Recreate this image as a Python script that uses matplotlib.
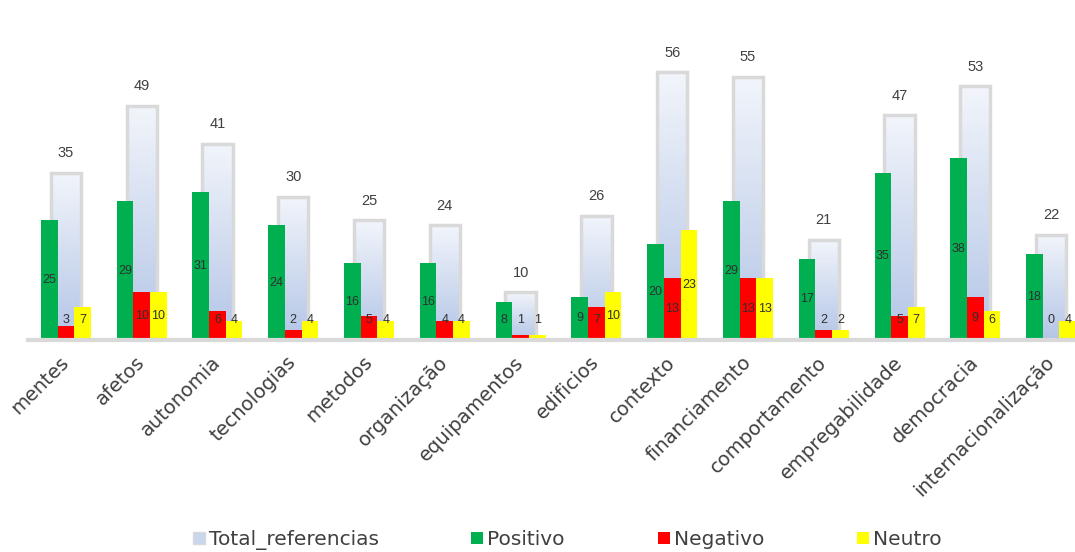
import numpy as np
import matplotlib
matplotlib.use("Agg")
import matplotlib.pyplot as plt
from matplotlib.patches import Patch
from matplotlib.colors import LinearSegmentedColormap

categories = ["mentes", "afetos", "autonomia", "tecnologias", "metodos", "organização",
              "equipamentos", "edificios", "contexto", "financiamento", "comportamento",
              "empregabilidade", "democracia", "internacionalização"]
total = [35, 49, 41, 30, 25, 24, 10, 26, 56, 55, 21, 47, 53, 22]
positivo = [25, 29, 31, 24, 16, 16, 8, 9, 20, 29, 17, 35, 38, 18]
negativo = [3, 10, 6, 2, 5, 4, 1, 7, 13, 13, 2, 5, 9, 0]
neutro = [7, 10, 4, 4, 4, 4, 1, 10, 23, 13, 2, 7, 6, 4]

W, H = 1075, 552
fig = plt.figure(figsize=(W / 100, H / 100), dpi=100)
ax = fig.add_axes([28 / W, 212 / H, 1061 / W, 287 / H])
x = np.arange(len(categories))

grad = LinearSegmentedColormap.from_list("g", ["#B3C5E6", "#F2F5FB"])
tb = ax.bar(x, total, width=0.4, color="none", edgecolor="#D9D9D9", linewidth=2.5, zorder=1)
gimg = np.linspace(0, 1, 256).reshape(-1, 1)
for rect in tb:
    x0, w, h = rect.get_x(), rect.get_width(), rect.get_height()
    im = ax.imshow(gimg, cmap=grad, origin="lower", aspect="auto",
                   extent=(x0, x0 + w, 0, h), zorder=0.9)
    im.set_clip_path(rect)

bw = 0.22
off = [-0.22, 0.0, 0.22]
cols = ["#00B050", "#FF0000", "#FFFF00"]
for vals, o, c in zip([positivo, negativo, neutro], off, cols):
    ax.bar(x + o, vals, width=bw, color=c, zorder=2, linewidth=0)
    for xi, v in zip(x, vals):
        ax.text(xi + o, max(v / 2, 4.2), str(v), ha="center", va="center",
                fontsize=9, color="#303030", zorder=3, family="Liberation Sans")

for xi, v in zip(x, total):
    ax.annotate(str(v), (xi, v), xytext=(0, 9), textcoords="offset points",
                ha="center", va="bottom", fontsize=10.5, color="#404040",
                family="Liberation Sans")

ax.set_xlim(-0.5, 13.5)
ax.set_ylim(0, 60)
for s in ["top", "right", "left"]:
    ax.spines[s].set_visible(False)
ax.spines["bottom"].set_color("#D9D9D9")
ax.spines["bottom"].set_linewidth(3)
ax.set_yticks([])
ax.set_xticks(x)
ax.set_xticklabels(categories, rotation=45, ha="right", va="center",
                   rotation_mode="anchor", fontsize=14, color="#404040")
ax.tick_params(axis="x", length=0, pad=14)

handles = [Patch(facecolor="#C9D6EE", edgecolor="#D9D9D9", label="Total_referencias"),
           Patch(facecolor=cols[0], label="Positivo"),
           Patch(facecolor=cols[1], label="Negativo"),
           Patch(facecolor=cols[2], label="Neutro")]
fig.legend(handles=handles, loc="center", bbox_to_anchor=(567 / W, 1 - 540 / H),
           ncol=4, frameon=False, fontsize=14.5, handlelength=0.6, handleheight=0.6,
           handletextpad=0.2, columnspacing=4.6, labelcolor="#404040")

fig.savefig("out.png", dpi=100)
